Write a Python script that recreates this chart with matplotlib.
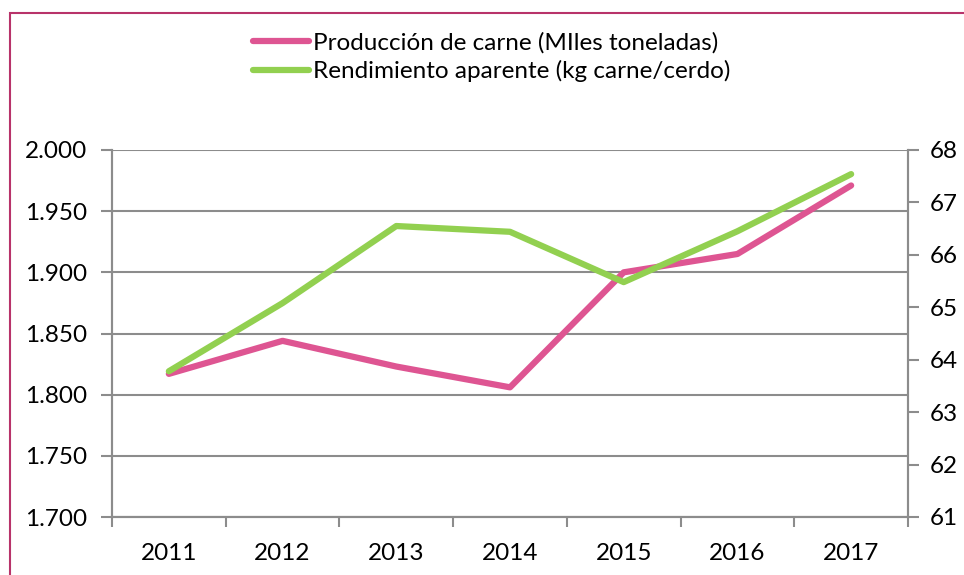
import matplotlib.pyplot as plt
from matplotlib.patches import Rectangle

years = ["2011", "2012", "2013", "2014", "2015", "2016", "2017"]
produccion = [1817, 1844, 1823, 1806, 1900, 1915, 1971]
rendimiento = [63.78, 65.08, 66.55, 66.44, 65.48, 66.45, 67.54]

left_ticks = [1700, 1750, 1800, 1850, 1900, 1950, 2000]
right_ticks = [61, 62, 63, 64, 65, 66, 67, 68]

pink = "#DE5592"
green = "#92D050"
gray = "#8C8C8C"

plt.rcParams["font.family"] = ["Lato", "DejaVu Sans"]

fig = plt.figure(figsize=(9.64, 5.75), dpi=100)
ax = fig.add_axes([112 / 964, 1 - 517 / 575, 796 / 964, 367 / 575])
ax2 = ax.twinx()

x = range(len(years))
l1, = ax.plot(x, produccion, color=pink, lw=4.5, solid_capstyle="round")
l2, = ax2.plot(x, rendimiento, color=green, lw=4.5, solid_capstyle="round")

ax.set_xlim(-0.5, len(years) - 0.5)
ax.set_ylim(1700, 2000)
ax2.set_ylim(61, 68)
ax.set_yticks(left_ticks)
ax.set_yticklabels([f"{v/1000:.3f}" for v in left_ticks])
ax2.set_yticks(right_ticks)

ax.set_xticks(list(x))
ax.set_xticklabels(years)
ax.set_xticks([i - 0.5 for i in range(len(years) + 1)], minor=True)
ax.tick_params(axis="x", which="major", length=0, pad=19, labelsize=17.5)
ax.tick_params(axis="x", which="minor", length=7, color=gray, width=1.5)
ax.tick_params(axis="y", length=8, color=gray, width=1.5, labelsize=17.5, pad=10)
ax2.tick_params(axis="y", length=8, color=gray, width=1.5, labelsize=17.5, pad=8)

ax.grid(axis="y", color=gray, lw=1.5)
ax.set_axisbelow(True)
for a in (ax, ax2):
    a.spines["top"].set_visible(False)
    for s in ("left", "right", "bottom"):
        a.spines[s].set_color(gray)
        a.spines[s].set_linewidth(1.5)

fig.legend([l1, l2],
           ["Producción de carne (MIles toneladas)", "Rendimiento aparente (kg carne/cerdo)"],
           loc="upper left", bbox_to_anchor=(253 / 964, 1 - 32 / 575),
           frameon=False, fontsize=17.5, handlelength=2.3, handletextpad=0.15,
           labelspacing=0.28, borderpad=0, borderaxespad=0)

# outer chart border
fig.patches.append(Rectangle((10 / 964, -0.1), 1.1, 1 - 13 / 575 + 0.1,
                             transform=fig.transFigure, fill=False,
                             edgecolor="#B8336A", lw=1.5))

fig.savefig("out.png", dpi=100)
